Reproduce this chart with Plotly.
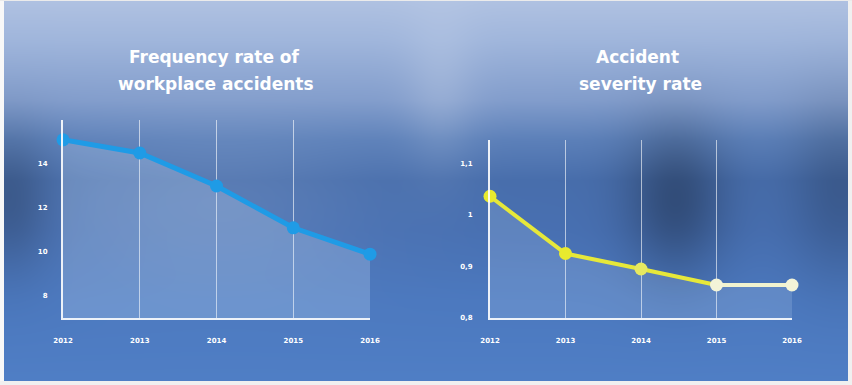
import base64, struct, zlib
import numpy as np
import plotly.graph_objects as go

# ---------------- data ----------------
years = [2012, 2013, 2014, 2015, 2016]
freq_rate = [15.1, 14.5, 13.0, 11.1, 9.9]
severity_rate = [1.036, 0.925, 0.895, 0.864, 0.864]
freq_ticks = [8, 10, 12, 14]
freq_ticktext = ["8", "10", "12", "14"]
sev_ticks = [0.8, 0.9, 1.0, 1.1]
sev_ticktext = ["0,8", "0,9", "1", "1,1"]
year_labels = ["2012", "2013", "2014", "2015", "2016"]

W, H = 852, 385

# ---------------- background (blurred photo look) ----------------
def make_bg():
    ys = np.arange(H, dtype=float)[:, None]
    xs = np.arange(W, dtype=float)[None, :]
    stops_y = [0, 40, 100, 140, 180, 230, 300, 385]
    stops_c = [(176, 194, 226), (160, 182, 220), (130, 157, 204), (92, 128, 185),
               (72, 110, 172), (72, 112, 178), (76, 121, 191), (80, 127, 198)]
    img = np.zeros((H, W, 3))
    for k in range(3):
        prof = np.interp(np.arange(H), stops_y, [c[k] for c in stops_c])
        img[:, :, k] = prof[:, None]
    # dark blob right chart
    g = np.exp(-(((xs - 675) / 50.0) ** 2 + ((ys - 200) / 75.0) ** 2))
    img *= (1 - 0.3 * g)[:, :, None]
    # darker left edge band
    g = np.exp(-(((xs - 10) / 40.0) ** 2 + ((ys - 200) / 70.0) ** 2))
    img *= (1 - 0.2 * g)[:, :, None]
    # darker right edge
    g = np.exp(-(((xs - 840) / 50.0) ** 2 + ((ys - 190) / 90.0) ** 2))
    img *= (1 - 0.18 * g)[:, :, None]
    # lighter streak near middle top
    g = np.exp(-(((xs - 440) / 35.0) ** 2 + ((ys - 90) / 80.0) ** 2))
    img = img + (255 - img) * (0.15 * g)[:, :, None]
    # lighter haze behind left chart
    g = np.exp(-(((xs - 220) / 150.0) ** 2 + ((ys - 200) / 80.0) ** 2))
    img = img + (255 - img) * (0.1 * g)[:, :, None]
    # white frame
    img[:, :4] = 248
    img[:, W - 4:] = 240
    img[:1, :] = 235
    img[H - 4:, :] = 240
    img = np.clip(img, 0, 255).astype(np.uint8)
    raw = b"".join(b"\x00" + img[r].tobytes() for r in range(H))
    def chunk(t, d):
        c = struct.pack(">I", len(d)) + t + d
        return c + struct.pack(">I", zlib.crc32(t + d) & 0xffffffff)
    png = b"\x89PNG\r\n\x1a\n" + chunk(b"IHDR", struct.pack(">IIBBBBB", W, H, 8, 2, 0, 0, 0)) \
        + chunk(b"IDAT", zlib.compress(raw, 9)) + chunk(b"IEND", b"")
    return "data:image/png;base64," + base64.b64encode(png).decode()

def bold(lst):
    return ["<b>%s</b>" % s for s in lst]

fig = go.Figure()

# left chart
fig.add_trace(go.Scatter(
    x=years, y=freq_rate, mode="lines+markers", xaxis="x", yaxis="y",
    line=dict(color="#1f9be6", width=5),
    marker=dict(color="#1f9be6", size=13),
    fill="tozeroy", fillcolor="rgba(220,235,255,0.22)",
    cliponaxis=False, showlegend=False, hoverinfo="x+y"))

# right chart
fig.add_trace(go.Scatter(
    x=years, y=severity_rate, mode="lines", xaxis="x2", yaxis="y2",
    line=dict(color="rgba(0,0,0,0)", width=0),
    fill="tozeroy", fillcolor="rgba(220,235,255,0.16)",
    showlegend=False, hoverinfo="skip"))
fig.add_trace(go.Scatter(
    x=years[3:], y=severity_rate[3:], mode="lines", xaxis="x2", yaxis="y2",
    line=dict(color="#f1f3cf", width=4), cliponaxis=False,
    showlegend=False, hoverinfo="skip"))
fig.add_trace(go.Scatter(
    x=years[:4], y=severity_rate[:4], mode="lines", xaxis="x2", yaxis="y2",
    line=dict(color="#e6e83a", width=4), cliponaxis=False,
    showlegend=False, hoverinfo="skip"))
fig.add_trace(go.Scatter(
    x=years, y=severity_rate, mode="markers", xaxis="x2", yaxis="y2",
    marker=dict(color=["#e8ea2e", "#e8ea2e", "#e6e860", "#f3f4d8", "#f3f4d8"], size=13),
    cliponaxis=False, showlegend=False, hoverinfo="x+y"))

tickfont = dict(family="DejaVu Sans", size=7, color="white")
common_x = dict(tickmode="array", tickvals=years, ticktext=bold(year_labels),
                range=[2012, 2016], showgrid=True, gridcolor="rgba(255,255,255,0.6)",
                gridwidth=1.2, zeroline=False, showline=True, linecolor="rgba(255,255,255,0.9)",
                linewidth=2, ticks="", tickfont=tickfont, ticklabelstandoff=15,
                fixedrange=True, automargin=False)
common_y = dict(tickmode="array", showgrid=False, zeroline=False, showline=True,
                linecolor="rgba(255,255,255,0.9)", linewidth=2, ticks="",
                tickfont=tickfont, fixedrange=True, automargin=False)

title_font = dict(family="DejaVu Sans", size=17, color="white")
fig.update_layout(
    width=W, height=H, margin=dict(l=0, r=0, t=0, b=0, pad=0, autoexpand=False),
    paper_bgcolor="#5f8ac6", plot_bgcolor="rgba(0,0,0,0)",
    xaxis=dict(domain=[63 / W, 370 / W], anchor="y", **common_x),
    yaxis=dict(domain=[67 / H, 265 / H], anchor="x", range=[7, 16], ticklabelstandoff=12,
               tickvals=freq_ticks, ticktext=bold(freq_ticktext), **common_y),
    xaxis2=dict(domain=[490 / W, 792 / W], anchor="y2", **common_x),
    yaxis2=dict(domain=[67 / H, 245 / H], anchor="x2", range=[0.8, 1.145], ticklabelstandoff=14,
                tickvals=sev_ticks, ticktext=bold(sev_ticktext), **common_y),
    images=[dict(source=make_bg(), xref="paper", yref="paper", x=0, y=1,
                 sizex=1, sizey=1, sizing="stretch", layer="below",
                 xanchor="left", yanchor="top")],
    annotations=[
        dict(text="<b>Frequency rate of</b>", x=214 / W, y=1 - 57 / H,
             xref="paper", yref="paper", showarrow=False, xanchor="center", yanchor="middle",
             font=title_font),
        dict(text="<b>workplace accidents</b>", x=216 / W, y=1 - 84 / H,
             xref="paper", yref="paper", showarrow=False, xanchor="center", yanchor="middle",
             font=title_font),
        dict(text="<b>Accident</b>", x=637 / W, y=1 - 57 / H,
             xref="paper", yref="paper", showarrow=False, xanchor="center", yanchor="middle",
             font=title_font),
        dict(text="<b>severity rate</b>", x=640 / W, y=1 - 84 / H,
             xref="paper", yref="paper", showarrow=False, xanchor="center", yanchor="middle",
             font=title_font),
    ],
)

fig.write_html("out.html")
